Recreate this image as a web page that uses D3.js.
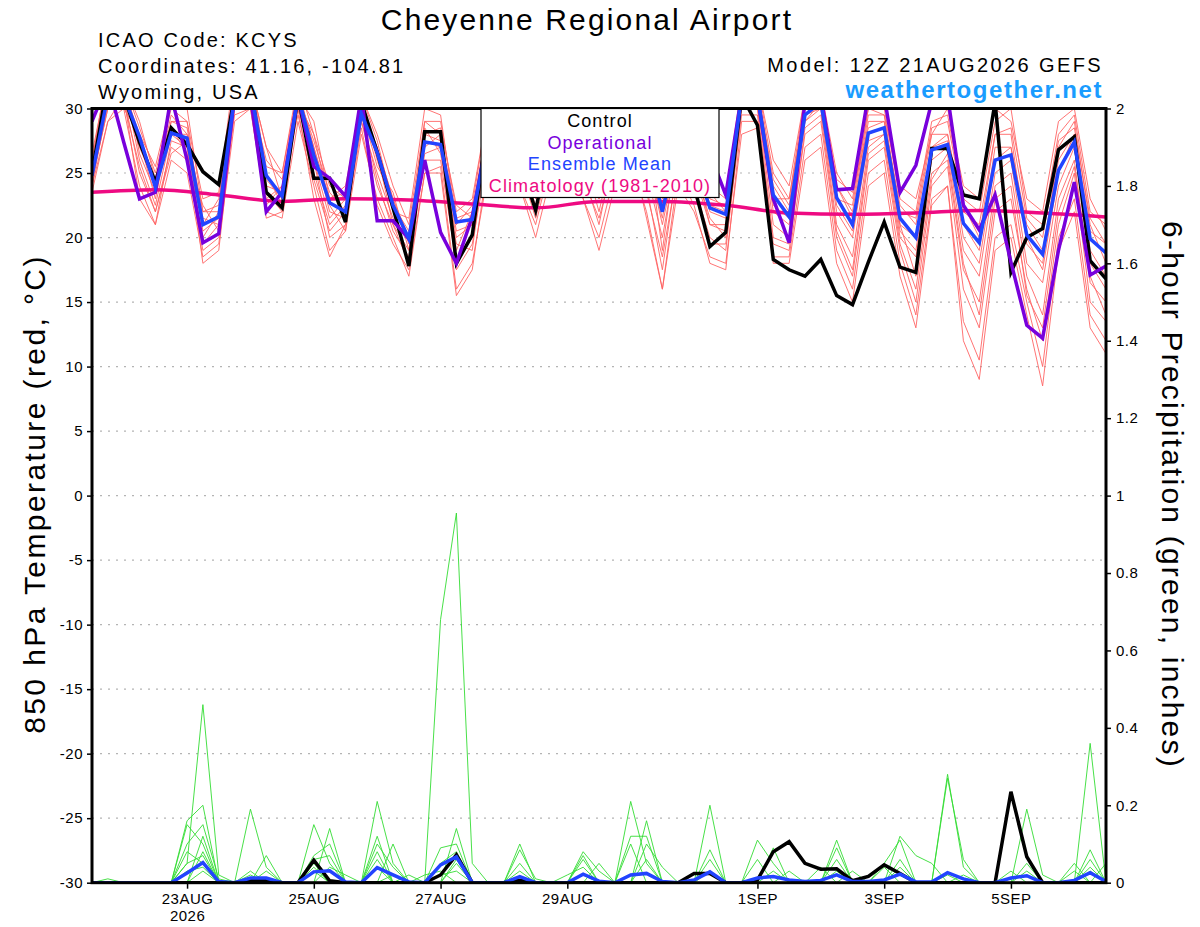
<!DOCTYPE html>
<html>
<head>
<meta charset="utf-8">
<script src="https://cdn.jsdelivr.net/npm/d3@7"></script>
<style>
  body { margin: 0; background: #fff; }
  text { font-family: "Liberation Sans", Arial, sans-serif; }
</style>
</head>
<body>
<svg id="chart" width="1200" height="927"></svg>
<script>
// 6-hourly steps, 12Z 21AUG2026 -> 12Z 06SEP2026 (65 steps)
const runStart = Date.UTC(2026, 7, 21, 12);
const times = d3.range(65).map(i => new Date(runStart + i * 6 * 3600 * 1000));

// x tick dates and labels
const tickDates = [
  Date.UTC(2026,7,23), Date.UTC(2026,7,25), Date.UTC(2026,7,27), Date.UTC(2026,7,29),
  Date.UTC(2026,8,1), Date.UTC(2026,8,3), Date.UTC(2026,8,5)
].map(d => new Date(d));
const tickLabels = ["23AUG","25AUG","27AUG","29AUG","1SEP","3SEP","5SEP"];

// 850 hPa temperature (C)
const controlT = [25,32,31,27.4,24.3,28.5,27.2,25.1,24.1,31, 32,23.5,22.3,31,24.6,24.6,21.2,30.5,26.6,22.3,
  17.8,28.2,28.2,18,20.2,29,30,26,22.1,28, 29,27,24,28,29,27,24,28,24,19.3,
  20.4,31,28.7,18.3,17.5,17,18.3,15.5,14.8,18.1, 21.2,17.7,17.3,26.9,26.9,23.3,23,30.5,17.3,20,
  20.7,26.8,27.8,18.2,16.8];
const operT = [29,32,27.4,23,23.5,31,26,19.6,20.3,31, 31,22,23.5,31,25.5,24.6,23.2,31,21.3,21.3,
  19.9,26,20.4,18,21.6,28,30,27,24,28, 30,27,24,28,30,27,24,28,27,26.5,
  23.3,31,31,23,19.6,30.5,31,23.7,23.8,31, 31,23.5,25.6,30.5,31,22.5,20.6,23.3,18.1,13.2,
  12.2,19,24.3,17.1,17.8];
const meanT = [24.8,31,31,27.8,23.9,28.1,27.7,21,21.6,31, 31.5,24.8,23.2,31,26.4,22.7,22,29.6,26.6,22.5,
  19.9,27.4,27.2,21.2,21.4,28,29.5,27,23.5,28, 29.5,27,23.8,28,29.5,27,22,27.5,26,22.3,
  21.8,31,31,23.3,21.6,29.5,30.5,23.1,21,28.1, 28.5,21.5,20,26.8,27.2,21.1,19.6,26,26.4,20.2,
  18.7,25.2,27.4,19.9,18.8];
// climatology (1981-2010), one value per day at 12Z
const climIdx = [0,4,8,12,16,20,24,28,32,36,40,44,48,52,56,60,64];
const climT = [23.5,23.7,23.3,22.8,23,22.9,22.6,22.3,22.8,22.8,22.5,21.9,21.8,21.9,22.1,21.9,21.6];

// ensemble members, temperature
const ensT = [
  [25.5,32,32,28.5,25,30,29,23,23.5,33, 32,27,25,32,28,24,23,31,28,24, 21,29,29,22,23,30,31,28,24.5,30, 31,28,25,30,31,28,23.5,29,27,24, 23,32,32,25,23,31,31.5,25,23,30, 30,23,22,29,29.5,23,22,29,30,22, 21,28,29.5,22,21],
  [24,29,30,24,21,26,25,18.5,19.5,29, 30,22,21.5,29,24,19,20.5,28,23,20, 17,25,25.5,16,18,25,27,24,20,25, 27,23,19,24,26,22,16,24,22,18.5, 18,28,28.5,18,18,26,27,18,15,24, 25,17,13,22.5,24,12,9,19,20,14, 8.5,19,22,13,11],
  [25,31,32,26,22.5,28,27,20,22,31, 32,24,23.5,31,27,22,21.5,30,27,23, 19.5,28,27.5,20.5,21,28,30,26.5,23,28, 30,27,23,28,30,26.5,21,27,25,21, 21,31,31,22,21,29,30,22,20,27.5, 28,20,18.5,26,27,19,17,25,26,18, 16.5,24,27,18,16],
  [26,32,31,27,24,29,28.5,21.5,21,32, 33,25,22.5,32,25,21,22.5,29,25,21.5, 20,27,28,19,22,29,29,27.5,24,29, 29,28,24.5,29,30,28,19,28,27,22.5, 22,30,31.5,24,22,30,31,24,21.5,29, 29,22.5,21,28,28,21,19,27,27,21, 19,26,28,20.5,19.5],
  [24.5,30,31,25,22,27,26,19,20,30, 31,23,24,30,26,20,21,29,24,21, 18,26,26,18,20,27,29,25,22,27, 29,25,21,27,28.5,24,17.5,26,24,20, 19,30,30,20,19.5,28,29,20,17,26, 27,19,15,24,25.5,16,13,22,23,16, 12,21,25,15,13.5],
  [25,31.5,30,28,25.5,30.5,30,22,22.5,32, 31,26,24.5,31,29,23,24,30.5,26,22, 21.5,30,29.5,21,22.5,30,31,28,23.5,29, 31,27.5,23.5,29,31,27,22,28,26,23, 22.5,31,32,26,24,31,31,23,22.5,30, 29.5,24,23,28,30,24,23,30,29,23, 22,29,30,23,20.5],
  [23.5,29,31,23,21,27.5,27,18,19,30, 31,21.5,22,30,23,18.5,21,28.5,22.5,19.5, 17.5,25,25,15.5,17.5,26,28,24,21,26, 28,23,20,25,27,21.5,16,25,22.5,18, 17.5,29,29,18.5,18.5,27,28,19,16,25, 26,18,14,23,24,13.5,10.5,20,21,15, 10,20,23,14,12],
  [26,33,32,29,24.5,28,28,21,23,31, 32,27,23,31,27.5,23.5,22,31,27.5,22.5, 20.5,28,28.5,22.5,21.5,28.5,30,27,24,28.5, 30.5,26,24,28,29,27.5,23,29,28,22, 21.5,32,30,23,23,30,31,24.5,23.5,28.5, 29,21,20,27,28,22,21,28,28,19.5, 18,27,29,21,18],
  [24,30.5,31,27.5,23,29,29,20.5,21.5,30.5, 32,24.5,23,32,26,21.5,23,30,25.5,23.5, 19,27.5,27,20,21,27.5,29.5,26,22.5,27.5, 29.5,26.5,22,27.5,29.5,25,20,27,25.5,21.5, 20,31,30.5,21,20,29.5,30,21,18.5,27, 28,21,17,25,26,17.5,15,24,25,17, 14,23,26,16.5,15],
  [25.5,31,33,26.5,23.5,28.5,26.5,22.5,20.5,31.5, 30.5,23.5,22,30.5,28,22.5,20.5,30,26.5,21, 19,28.5,26.5,19.5,19,28.5,30.5,27,23,28, 30,27,23,28.5,30.5,26,21.5,28.5,26,21, 20.5,30.5,31,22.5,21.5,29,30.5,22.5,20.5,28, 28.5,20.5,19,27,27.5,20,18,26,27,20, 17.5,25,28,19,17],
  [24.5,30,30.5,25.5,22,26.5,27.5,19.5,21,29.5, 30,22.5,24,29.5,24.5,20.5,22,29.5,24.5,20.5, 18.5,26.5,27,17.5,19.5,26.5,28.5,25.5,21.5,26.5, 28.5,24.5,21.5,26,28,23.5,18.5,25.5,23.5,19.5, 19.5,29.5,29.5,19.5,19,28.5,29.5,20.5,17.5,26.5, 27.5,19.5,16,24.5,26.5,18,14,23,24,15.5, 13,22,25.5,17,14],
  [26.5,32.5,31.5,28,24,29.5,28,22,22,32.5, 31.5,25.5,25,31.5,27,23,23.5,30,27,23, 20,29,28,21.5,22,29,30,28,24,29.5, 30.5,28,24,29.5,30,27,22.5,28,26.5,23.5, 22,31.5,31.5,24.5,22.5,30.5,30.5,24,22,29.5, 29.5,22,21.5,28.5,29,22.5,20,28,28.5,21.5, 20,27.5,28.5,21.5,19.5]
];

// 6-hour precipitation (inches)
const controlP = [0,0,0,0,0,0,0,0,0,0, .005,.006,0,0,.058,.005,0,0,0,0, 0,0,.02,.072,0,0,0,.006,0,0,
  0,0,0,0,0,0,0,0,.024,.024, 0,0,.007,.08,.106,.05,.035,.036,.005,.016, .046,.024,0,0,0,0,0,0,.235,.067,
  0,0,0,0,0];
const meanP = [0,0,0,0,0,0,.025,.052,.003,0, .012,.012,0,0,.028,.031,.002,0,.039,.02, .002,0,.046,.067,0,0,0,.016,0,0,
  0,.022,.004,0,.02,.024,.003,0,.007,.028, 0,0,.012,.016,.007,.003,.006,.02,.003,.003, .007,.022,.002,.002,.026,.01,0,0,.012,.018,
  0,0,.006,.026,.003];
const ensP = [
  [0,0,0,0,0,0,.05,.46,.02,0, 0,0,0,0,0,0,0,0,.06,0, 0,0,.05,.08,0,0,0,0,0,0, 0,0,0,0,.21,.05,0,0,0,0, 0,0,0,0,0,0,0,0,0,0, 0,.06,0,0,.28,.04,0,0,0,0, 0,0,0,.06,0],
  [0,0,0,0,0,0,.16,.2,0,0, .03,0,0,0,.15,.05,0,0,0,0, 0,0,.68,.955,.05,0,0,0,0,0, 0,.08,.03,0,0,0,0,0,0,0, 0,0,0,0,0,0,0,.11,0,0, 0,0,0,0,0,0,0,0,0,.05, 0,0,0,.36,0],
  [0,0,0,0,0,0,.15,.1,0,0, .19,.04,0,0,0,0,0,0,.21,.05, 0,0,0,0,0,0,0,.1,0,0, 0,0,0,0,0,.16,0,0,0,0, 0,0,.11,.05,0,0,0,0,0,0, 0,.12,.07,.05,0,0,0,0,0,0, 0,0,.03,0,0],
  [0,0,0,0,0,0,.1,.15,.01,0, 0,0,0,0,0,.14,0,0,.12,0, 0,0,0,.14,0,0,0,0,0,0, 0,.07,0,0,0,0,0,0,0,.2, 0,0,0,0,0,0,0,.09,0,0, 0,0,0,0,.27,.06,0,0,0,0, 0,0,0,0,.05],
  [0,.01,0,0,0,0,0,.08,0,0, 0,.07,0,0,.07,.1,0,0,0,.1, 0,0,.09,.1,0,0,0,0,0,0, 0,0,0,0,.12,.12,0,0,0,0, 0,0,0,.09,0,0,0,0,0,0, .05,.11,0,0,0,0,0,0,0,.19, .02,0,0,0,0],
  [0,0,0,0,0,0,.08,.05,0,0, 0,.03,0,0,.06,.07,0,0,.1,.04, 0,0,0,0,0,0,0,.085,.01,0, 0,.06,0,0,0,0,0,0,0,.085, 0,0,.06,0,0,0,0,.06,0,0, 0,0,0,0,0,0,0,0,.03,0, 0,0,0,.085,0],
  [0,0,0,0,0,0,0,.12,0,0, 0,0,0,0,.05,0,0,0,.08,0, .02,0,0,.05,0,0,0,.05,0,0, 0,0,.05,0,0,.1,.04,0,0,.06, 0,0,0,0,.03,0,0,0,0,0, .04,0,0,0,0,0,0,0,0,0, 0,0,.05,0,0],
  [0,0,0,0,0,0,.05,.07,0,0, 0,0,0,0,0,.04,.02,0,0,0, 0,.02,.03,0,0,0,0,0,0,0, .02,.04,0,0,.1,0,0,0,0,0, 0,0,0,0,0,0,.04,0,.03,0, 0,0,0,0,0,.02,0,0,0,0, 0,0,0,.04,0],
  [0,0,0,0,0,0,0,.03,0,0, .02,0,0,0,.04,0,0,0,.04,0, 0,0,0,.06,0,0,0,.03,0,0, 0,0,0,0,0,.06,0,0,0,0, 0,0,0,.03,0,0,0,0,0,0, 0,.04,0,0,0,0,0,0,0,.03, 0,0,0,0,0],
  [0,0,0,0,0,0,.03,.04,0,0, 0,0,0,0,.03,0,0,0,0,.02, 0,0,.02,.03,0,0,0,0,0,0, 0,.02,0,0,0,0,0,0,0,.03, 0,0,0,0,0,0,0,.03,0,0, 0,0,0,0,.02,0,0,0,0,0, 0,0,0,.03,0]
];

const plotLeft = 92, plotRight = 1106, plotTop = 108.5, plotBottom = 882.7;

const svg = d3.select("#chart");

const x = d3.scaleUtc().domain([times[0], times[64]]).range([plotLeft, plotRight]);
const yT = d3.scaleLinear().domain([-30, 30]).range([plotBottom, plotTop]);
const yP = d3.scaleLinear().domain([0, 2]).range([plotBottom, plotTop]);

svg.append("clipPath").attr("id", "plotClip")
  .append("rect").attr("x", plotLeft).attr("y", plotTop)
  .attr("width", plotRight - plotLeft).attr("height", plotBottom - plotTop);

// dotted grid at every 5 C
svg.append("g").selectAll("line")
  .data(d3.range(-25, 30, 5))
  .join("line")
  .attr("x1", plotLeft).attr("x2", plotRight)
  .attr("y1", d => yT(d)).attr("y2", d => yT(d))
  .attr("stroke", "#b4b4b4").attr("stroke-width", 1.2)
  .attr("stroke-dasharray", "2,6");

const plot = svg.append("g").attr("clip-path", "url(#plotClip)");

const lineT = d3.line().x((d, i) => x(times[i])).y(d => yT(d));
const lineP = d3.line().x((d, i) => x(times[i])).y(d => yP(d));

// ensemble members
plot.append("g").selectAll("path")
  .data(ensT)
  .join("path")
  .attr("d", lineT)
  .attr("fill", "none").attr("stroke", "#ff6464").attr("stroke-width", 0.9);

plot.append("g").selectAll("path")
  .data(ensP)
  .join("path")
  .attr("d", lineP)
  .attr("fill", "none").attr("stroke", "#33dd33").attr("stroke-width", 0.9);

// climatology
plot.append("path")
  .datum(climT)
  .attr("d", d3.line().x((d, i) => x(times[climIdx[i]])).y(d => yT(d)).curve(d3.curveMonotoneX))
  .attr("fill", "none").attr("stroke", "#ee0a82").attr("stroke-width", 3.5);

// control / operational / mean
const heavy = [
  {data: controlT, line: lineT, color: "#000000"},
  {data: operT, line: lineT, color: "#7800dc"},
  {data: meanT, line: lineT, color: "#2244ff"},
  {data: controlP, line: lineP, color: "#000000"},
  {data: meanP, line: lineP, color: "#2244ff"}
];
heavy.forEach(s => {
  plot.append("path")
    .datum(s.data)
    .attr("d", s.line)
    .attr("fill", "none").attr("stroke", s.color)
    .attr("stroke-width", 3.5).attr("stroke-linejoin", "miter");
});

// frame
svg.append("rect")
  .attr("x", plotLeft).attr("y", plotTop)
  .attr("width", plotRight - plotLeft).attr("height", plotBottom - plotTop)
  .attr("fill", "none").attr("stroke", "#000").attr("stroke-width", 3);

// axes
const axL = svg.append("g").attr("transform", `translate(${plotLeft},0)`)
  .call(d3.axisLeft(yT).tickValues(d3.range(-30, 31, 5)).tickFormat(d => String(d)).tickSize(5).tickPadding(4));
const axR = svg.append("g").attr("transform", `translate(${plotRight},0)`)
  .call(d3.axisRight(yP).tickValues(d3.range(0, 11).map(k => k / 5)).tickFormat(d => String(d)).tickSize(5).tickPadding(5));
const axB = svg.append("g").attr("transform", `translate(0,${plotBottom})`)
  .call(d3.axisBottom(x).tickValues(tickDates).tickFormat((d, i) => tickLabels[i]).tickSize(6));

[axL, axR, axB].forEach(a => {
  a.select(".domain").remove();
  a.selectAll(".tick line").attr("stroke", "#000").attr("stroke-width", 1.5);
  a.selectAll(".tick text").attr("fill", "#000").attr("font-size", 15)
    .attr("font-family", "Liberation Sans, Arial, sans-serif").attr("letter-spacing", 0.5);
});
axB.selectAll(".tick text").attr("y", 21).attr("dy", 0);
axB.select(".tick text").append("tspan").attr("x", 0).attr("dy", 17).text("2026");

// legend
const lg = svg.append("g");
lg.append("rect").attr("x", 481).attr("y", plotTop).attr("width", 238).attr("height", 89)
  .attr("fill", "#fff").attr("stroke", "#000").attr("stroke-width", 1.2);
const legendItems = [
  {t: "Control", c: "#000000"},
  {t: "Operational", c: "#7800dc"},
  {t: "Ensemble Mean", c: "#2244ff"},
  {t: "Climatology (1981-2010)", c: "#ee0a82"}
];
lg.selectAll("text")
  .data(legendItems)
  .join("text")
  .attr("x", 600).attr("y", (d, i) => 127 + i * 21.5)
  .attr("text-anchor", "middle").attr("font-size", 18).attr("letter-spacing", 1.1)
  .attr("fill", d => d.c)
  .text(d => d.t);

// titles
svg.append("text").attr("x", 587).attr("y", 30).attr("text-anchor", "middle")
  .attr("font-size", 30).attr("letter-spacing", 2.15).text("Cheyenne Regional Airport");

const info = ["ICAO Code: KCYS", "Coordinates: 41.16, -104.81", "Wyoming, USA"];
svg.append("g").selectAll("text")
  .data(info)
  .join("text")
  .attr("x", 98).attr("y", (d, i) => 47 + i * 26)
  .attr("font-size", 20).attr("letter-spacing", 2.2)
  .text(d => d);

svg.append("text").attr("x", 1103).attr("y", 72).attr("text-anchor", "end")
  .attr("font-size", 20).attr("letter-spacing", 2.4).text("Model: 12Z 21AUG2026 GEFS");
svg.append("text").attr("x", 1103).attr("y", 98).attr("text-anchor", "end")
  .attr("font-size", 24).attr("font-weight", "bold").attr("letter-spacing", 1.55)
  .attr("fill", "#1a9cff").text("weathertogether.net");

// axis titles
svg.append("text").attr("transform", "translate(45,494) rotate(-90)")
  .attr("text-anchor", "middle").attr("font-size", 30).attr("letter-spacing", 2.4)
  .text("850 hPa Temperature (red, °C)");
svg.append("text").attr("transform", "translate(1162,495) rotate(90)")
  .attr("text-anchor", "middle").attr("font-size", 30).attr("letter-spacing", 2.2)
  .text("6-hour Precipitation (green, inches)");
</script>
</body>
</html>
